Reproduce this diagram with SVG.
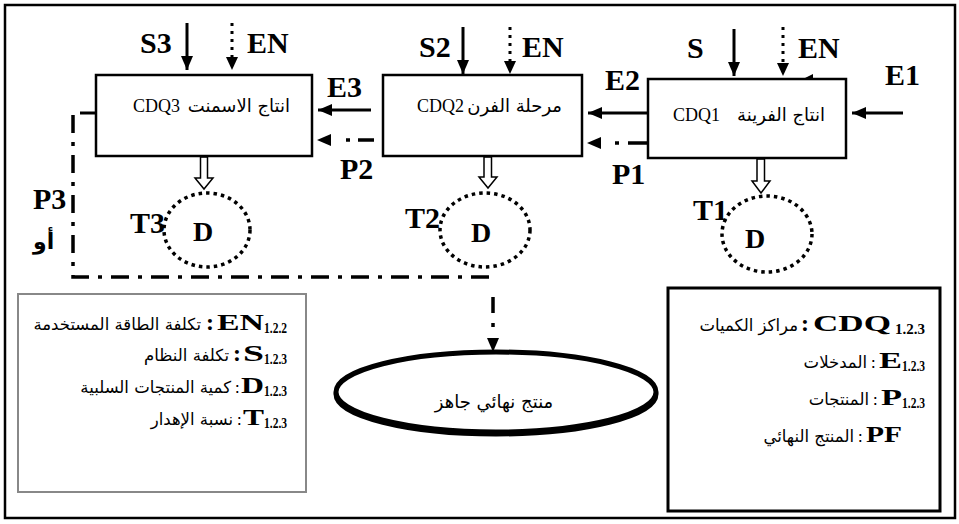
<svg xmlns="http://www.w3.org/2000/svg" width="959" height="524" viewBox="0 0 959 524">
  <style>
    .lbl { font-family: "Liberation Serif", "DejaVu Serif", serif; font-weight: bold; font-size: 30px; fill: #000; }
    .dl { font-family: "Liberation Serif", "DejaVu Serif", serif; font-weight: bold; font-size: 28px; fill: #000; text-anchor: middle; }
    .cdq { font-family: "Liberation Serif", "DejaVu Serif", serif; font-size: 18px; fill: #000; }
    .ar { font-family: "DejaVu Sans", "Noto Sans", sans-serif; font-size: 18px; fill: #000; }
    .lg { font-family: "Liberation Serif", "DejaVu Serif", serif; font-weight: bold; font-size: 24px; fill: #000; text-anchor: end; }
    .sub { font-family: "Liberation Serif", "DejaVu Serif", serif; font-weight: bold; font-size: 14px; fill: #000; text-anchor: end; }
    .lar { font-family: "DejaVu Sans", "Noto Sans", sans-serif; font-size: 16.5px; fill: #000; text-anchor: end; }
    .box { fill: #fff; stroke: #000; stroke-width: 2.5; }
    .solid { fill: none; stroke: #000; stroke-width: 3; }
    .dotted { fill: none; stroke: #000; stroke-width: 3; stroke-dasharray: 3 5; }
    .dashdot { fill: none; stroke: #000; stroke-width: 3.5; stroke-dasharray: 18 9 4 9; }
    .ring { fill: none; stroke: #000; stroke-width: 3.5; stroke-dasharray: 3.5 4; }
    .hollow { fill: #fff; stroke: #000; stroke-width: 1.5; }
  </style>
  <defs>
    <!-- filled head whose tip sits at the end of the line -->
    <marker id="tip" markerUnits="userSpaceOnUse" markerWidth="14" markerHeight="12" refX="14" refY="6" orient="auto">
      <path d="M0,0 L14,6 L0,12 z" fill="#000"/>
    </marker>
    <!-- filled head whose base sits at the end of the line -->
    <marker id="tipAfter" markerUnits="userSpaceOnUse" markerWidth="14" markerHeight="12" refX="0" refY="6" orient="auto">
      <path d="M0,0 L14,6 L0,12 z" fill="#000"/>
    </marker>
  </defs>

  <rect x="5" y="5" width="950" height="513" fill="#fff" stroke="#000" stroke-width="2.5"/>

  <!-- connectors -->
  <g id="connectors">
    <!-- inputs from above -->
    <line class="solid" x1="187" y1="23" x2="187" y2="70" marker-end="url(#tip)"/>
    <line class="dotted" x1="232" y1="23" x2="232" y2="57"/>
    <path d="M226,57 L238,57 L232,70 z" fill="#000"/>
    <line class="solid" x1="463" y1="27" x2="463" y2="74" marker-end="url(#tip)"/>
    <line class="dotted" x1="510" y1="27" x2="510" y2="61"/>
    <path d="M504,61 L516,61 L510,74 z" fill="#000"/>
    <line class="solid" x1="734" y1="29" x2="734" y2="76" marker-end="url(#tip)"/>
    <line class="dotted" x1="783" y1="27" x2="783" y2="63"/>
    <path d="M777,63 L789,63 L783,76 z" fill="#000"/>
    <path d="M803,79 L813,74 L813,79 z" fill="#000"/>

    <!-- flows between stages -->
    <line class="solid" x1="903" y1="113" x2="852" y2="113" marker-end="url(#tip)"/>
    <line class="solid" x1="647" y1="113" x2="588" y2="113" marker-end="url(#tip)"/>
    <line class="solid" x1="371" y1="110" x2="318" y2="110" marker-end="url(#tip)"/>
    <line fill="none" stroke="#000" stroke-width="3.5" stroke-dasharray="20 9 4 40" x1="648" y1="143" x2="601" y2="143" marker-end="url(#tipAfter)"/>
    <line fill="none" stroke="#000" stroke-width="3.5" stroke-dasharray="16 8 4 40" x1="374" y1="140" x2="331" y2="140" marker-end="url(#tipAfter)"/>

    <!-- product path to the final product -->
    <line class="solid" x1="96" y1="113" x2="80" y2="113"/>
    <path class="dashdot" d="M73,115 V277 H495"/>
    <line fill="none" stroke="#000" stroke-width="3.5" stroke-dasharray="16 10 4 40" x1="493" y1="297" x2="493" y2="338" marker-end="url(#tipAfter)"/>

    <!-- waste outputs -->
    <path class="hollow" d="M200.5,157 V178 H195 L204,189 L213,178 H207.5 V157 z"/>
    <path class="hollow" d="M484,157 V177 H479 L488,188 L497,177 H491.5 V157 z"/>
    <path class="hollow" d="M757,159 V181 H752 L761,193 L770,181 H764.5 V159 z"/>
  </g>

  <!-- stage 3 -->
  <g id="cdq3">
    <rect class="box" x="96" y="75" width="216" height="81"/>
    <text class="cdq" x="133" y="112">CDQ3</text>
    <text class="ar" x="290" y="112" text-anchor="end">انتاج الاسمنت</text>
  </g>
  <!-- stage 2 -->
  <g id="cdq2">
    <rect class="box" x="383" y="75" width="199" height="81"/>
    <text class="cdq" x="417" y="112">CDQ2</text>
    <text class="ar" x="562" y="112" text-anchor="end" font-size="17">مرحلة الفرن</text>
  </g>
  <!-- stage 1 -->
  <g id="cdq1">
    <rect class="box" x="648" y="79" width="198" height="79"/>
    <text class="cdq" x="673" y="121" font-size="15">CDQ1</text>
    <text class="ar" x="825" y="121" text-anchor="end">انتاج الفرينة</text>
  </g>

  <!-- flow labels -->
  <g id="labels">
    <text class="lbl" x="140" y="53">S3</text>
    <text class="lbl" x="247" y="53">EN</text>
    <text class="lbl" x="419" y="57">S2</text>
    <text class="lbl" x="522" y="57">EN</text>
    <text class="lbl" x="687" y="58">S</text>
    <text class="lbl" x="798" y="58">EN</text>
    <text class="lbl" x="885" y="85">E1</text>
    <text class="lbl" x="605" y="90">E2</text>
    <text class="lbl" x="327" y="97">E3</text>
    <text class="lbl" x="340" y="179">P2</text>
    <text class="lbl" x="612" y="184">P1</text>
    <text class="lbl" x="33" y="209">P3</text>
    <text x="33" y="249" font-family="'DejaVu Sans', 'Noto Sans', sans-serif" font-weight="bold" font-size="22">أو</text>
    <text class="lbl" x="130" y="233">T3</text>
    <text class="lbl" x="405" y="228">T2</text>
    <text class="lbl" x="693" y="220">T1</text>
  </g>

  <!-- defect pools -->
  <g id="d3">
    <ellipse class="ring" cx="207" cy="230" rx="43" ry="37"/>
    <text class="dl" x="203" y="241">D</text>
  </g>
  <g id="d2">
    <ellipse class="ring" cx="485" cy="230" rx="45" ry="37"/>
    <text class="dl" x="481" y="242">D</text>
  </g>
  <g id="d1">
    <ellipse class="ring" cx="767" cy="234" rx="45" ry="38"/>
    <text class="dl" x="755" y="248">D</text>
  </g>

  <!-- final product: the lower ring gives the heavier bottom edge -->
  <g id="final">
    <ellipse cx="496" cy="394" rx="160" ry="40" fill="none" stroke="#000" stroke-width="5"/>
    <ellipse cx="496" cy="392" rx="160" ry="40" fill="#fff" stroke="#000" stroke-width="5"/>
    <text class="ar" x="494" y="408" text-anchor="middle" font-size="21">منتج نهائي جاهز</text>
  </g>

  <!-- cost legend -->
  <g id="legend-left">
    <rect x="18" y="294" width="288" height="198" fill="#fff" stroke="#888" stroke-width="2"/>
    <text class="sub" x="287" y="333" textLength="23" lengthAdjust="spacingAndGlyphs">1.2.2</text>
    <text class="lg" x="264" y="330" textLength="47" lengthAdjust="spacingAndGlyphs">EN</text>
    <text class="lg" x="214" y="330">:</text>
    <text class="lar" x="201" y="330">تكلفة الطاقة المستخدمة</text>

    <text class="sub" x="287" y="364" textLength="23" lengthAdjust="spacingAndGlyphs">1.2.3</text>
    <text class="lg" x="264" y="361" textLength="21" lengthAdjust="spacingAndGlyphs">S</text>
    <text class="lg" x="241" y="361">:</text>
    <text class="lar" x="229" y="361">تكلفة النظام</text>

    <text class="sub" x="287" y="396" textLength="23" lengthAdjust="spacingAndGlyphs">1.2.3</text>
    <text class="lg" x="264" y="393" textLength="23" lengthAdjust="spacingAndGlyphs">D</text>
    <text class="lar" x="240" y="393">:</text>
    <text class="lar" x="231" y="393">كمية المنتجات السلبية</text>

    <text class="sub" x="287" y="428" textLength="23" lengthAdjust="spacingAndGlyphs">1.2.3</text>
    <text class="lg" x="264" y="425" textLength="21" lengthAdjust="spacingAndGlyphs">T</text>
    <text class="lar" x="242" y="425">:</text>
    <text class="lar" x="233" y="425">نسبة الإهدار</text>
  </g>

  <!-- centre legend -->
  <g id="legend-right">
    <rect x="668" y="288" width="272" height="223" fill="#fff" stroke="#000" stroke-width="3"/>
    <text class="sub" x="925" y="334" textLength="30" lengthAdjust="spacingAndGlyphs">1.2.3</text>
    <text class="lg" x="891" y="331" textLength="78" lengthAdjust="spacingAndGlyphs">CDQ</text>
    <text class="lg" x="809" y="331">:</text>
    <text class="lar" x="798" y="331">مراكز الكميات</text>

    <text class="sub" x="925" y="371" textLength="23" lengthAdjust="spacingAndGlyphs">1.2.3</text>
    <text class="lg" x="902" y="368" textLength="23" lengthAdjust="spacingAndGlyphs">E</text>
    <text class="lar" x="876" y="368">:</text>
    <text class="lar" x="867" y="368">المدخلات</text>

    <text class="sub" x="925" y="408" textLength="23" lengthAdjust="spacingAndGlyphs">1.2.3</text>
    <text class="lg" x="902" y="405" textLength="21" lengthAdjust="spacingAndGlyphs">P</text>
    <text class="lar" x="878" y="405">:</text>
    <text class="lar" x="869" y="405">المنتجات</text>

    <text class="lg" x="902" y="442" textLength="36" lengthAdjust="spacingAndGlyphs">PF</text>
    <text class="lar" x="863" y="442">:</text>
    <text class="lar" x="854" y="442">المنتج النهائي</text>
  </g>
</svg>
